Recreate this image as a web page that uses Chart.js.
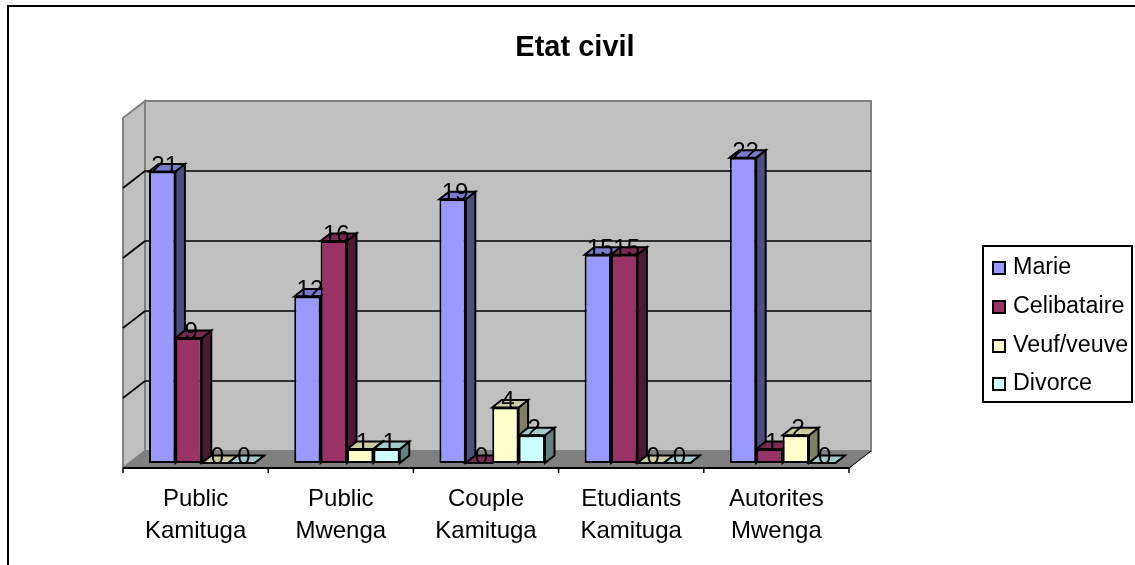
<!DOCTYPE html>
<html>
<head>
<meta charset="utf-8">
<style>html,body{margin:0;padding:0;background:#fff;overflow:hidden}canvas{display:block}</style>
<script src="https://cdn.jsdelivr.net/npm/chart.js@4/dist/chart.umd.min.js"></script>
</head>
<body>
<canvas id="c" width="1135" height="565"></canvas>
<script>
const categories = [["Public","Kamituga"],["Public","Mwenga"],["Couple","Kamituga"],["Etudiants","Kamituga"],["Autorites","Mwenga"]];
const seriesNames = ["Marie","Celibataire","Veuf/veuve","Divorce"];
const marie = [21,12,19,15,22];
const celibataire = [9,16,0,15,1];
const veuf = [0,1,4,0,2];
const divorce = [0,1,2,0,0];
const colors = ["#9999FF","#993366","#FFFFCC","#CCFFFF"];
const titleText = "Etat civil";

const FONT = '"Liberation Sans", Arial, sans-serif';
const WALL_DX = 22, WALL_DY = 17, FLOOR_FRONT = 5, BACK_UP = 12, WALL_K = 70/69.4;
const BAR_DX = 9.5, BAR_DY = 7.5, BAR_SHIFT = 6.2;

function shade(hex, k){
  const n = parseInt(hex.slice(1),16);
  const f = v => Math.round(v*k);
  return `rgb(${f(n>>16&255)},${f(n>>8&255)},${f(n&255)})`;
}
function poly(ctx, pts, fill, stroke, lw){
  ctx.beginPath();
  pts.forEach((p,i)=> i?ctx.lineTo(p[0],p[1]):ctx.moveTo(p[0],p[1]));
  ctx.closePath();
  if(fill){ctx.fillStyle=fill;ctx.fill();}
  if(stroke){ctx.strokeStyle=stroke;ctx.lineWidth=lw;ctx.lineJoin='miter';ctx.stroke();}
}
function line(ctx,x1,y1,x2,y2,c,lw){
  ctx.beginPath();ctx.moveTo(x1,y1);ctx.lineTo(x2,y2);ctx.strokeStyle=c;ctx.lineWidth=lw;ctx.stroke();
}

const scene = {
  id:'scene',
  beforeDraw(chart){
    const ctx=chart.ctx, a=chart.chartArea, y=chart.scales.y;
    ctx.save();
    ctx.fillStyle='#fff';ctx.fillRect(0,0,chart.width,chart.height);
    // outer frame: top and left edges
    line(ctx,8,6,chart.width,6,'#000',2);
    line(ctx,8,5,8,chart.height,'#000',2);
    const L=a.left,R=a.right,B=a.bottom;
    const backB=B-BACK_UP, wallY=v=>backB-(B-y.getPixelForValue(v))*WALL_K;
    const topV=y.max;
    // back wall, left wall, floor
    poly(ctx,[[L+WALL_DX,wallY(topV)],[R+WALL_DX,wallY(topV)],[R+WALL_DX,backB],[L+WALL_DX,backB]],'#C0C0C0','#808080',2);
    poly(ctx,[[L,wallY(topV)+WALL_DY],[L+WALL_DX,wallY(topV)],[L+WALL_DX,backB],[L,backB+WALL_DY]],'#C0C0C0','#808080',2);
    poly(ctx,[[L,backB+WALL_DY],[L+WALL_DX,backB],[R+WALL_DX,backB],[R,backB+WALL_DY]],'#808080','#808080',1);
    line(ctx,R,backB+WALL_DY,R+WALL_DX,backB,'#000',1);
    // gridlines from the value axis
    y.ticks.forEach(t=>{
      if(t.value===0||t.value===topV) return;
      const g=wallY(t.value);
      line(ctx,L,g+WALL_DY,L+WALL_DX,g,'#000',1.6);
      line(ctx,L+WALL_DX,g,R+WALL_DX,g,'#000',1.6);
    });
    // category axis line and tick marks
    const ay=B+FLOOR_FRONT;
    line(ctx,L,ay,R,ay,'#000',1.8);
    const step=(R-L)/categories.length;
    for(let i=0;i<=categories.length;i++) line(ctx,L+i*step,ay,L+i*step,ay+5,'#000',1.5);
    // title
    ctx.fillStyle='#000';ctx.font=`bold 29px ${FONT}`;ctx.textAlign='center';ctx.textBaseline='alphabetic';
    ctx.fillText(titleText,575,56);
    ctx.restore();
  },
  beforeDatasetsDraw(chart){
    const ctx=chart.ctx;
    ctx.save();
    ctx.translate(BAR_SHIFT,0);
    chart.data.datasets.forEach((ds,di)=>{
      const c=ds.backgroundColor, meta=chart.getDatasetMeta(di);
      meta.data.forEach(el=>{
        const {x,y,base,width}=el.getProps(['x','y','base','width'],true);
        const l=x-width/2,r=x+width/2;
        poly(ctx,[[r,y],[r+BAR_DX,y-BAR_DY],[r+BAR_DX,base-BAR_DY],[r,base]],shade(c,.5),'#000',2);
        poly(ctx,[[l,y],[l+BAR_DX,y-BAR_DY],[r+BAR_DX,y-BAR_DY],[r,y]],shade(c,.8),'#000',2);
      });
    });
  },
  afterDatasetsDraw(chart){
    const ctx=chart.ctx;
    ctx.restore();
    ctx.save();
    // data labels
    ctx.fillStyle='#000';ctx.font=`24px ${FONT}`;ctx.textAlign='center';ctx.textBaseline='alphabetic';
    chart.data.datasets.forEach((ds,di)=>{
      chart.getDatasetMeta(di).data.forEach((el,i)=>{
        const {x,y}=el.getProps(['x','y'],true);
        ctx.fillText(String(ds.data[i]),x+BAR_SHIFT+2.5,y+1);
      });
    });
    // legend
    ctx.lineWidth=2;ctx.strokeStyle='#000';ctx.strokeRect(983,246,149,156);
    ctx.font=`23.3px ${FONT}`;ctx.textAlign='left';ctx.textBaseline='middle';
    const rows=[268,307,346,384];
    seriesNames.forEach((n,i)=>{
      ctx.fillStyle=colors[i];ctx.fillRect(993,rows[i]-6,12,12);
      ctx.strokeStyle='#000';ctx.lineWidth=2;ctx.strokeRect(993,rows[i]-6,12,12);
      ctx.fillStyle='#000';ctx.fillText(n,1013,rows[i]);
    });
    ctx.restore();
  }
};

new Chart(document.getElementById('c'),{
  type:'bar',
  data:{
    labels:categories,
    datasets:[marie,celibataire,veuf,divorce].map((d,i)=>({
      label:seriesNames[i],data:d,backgroundColor:colors[i],borderColor:'#000',borderWidth:2,borderSkipped:false,
      categoryPercentage:0.727,barPercentage:1,clip:false
    }))
  },
  options:{
    responsive:false,animation:false,devicePixelRatio:1,
    layout:{padding:{left:123,right:286,top:116,bottom:0}},
    plugins:{legend:{display:false},title:{display:false},tooltip:{enabled:false}},
    scales:{
      x:{
        grid:{display:false},border:{display:false},
        ticks:{color:'#000',font:{family:FONT,size:24,lineHeight:1.33},padding:12,autoSkip:false,maxRotation:0,minRotation:0},
        afterFit(s){s.height=102;}
      },
      y:{display:false,min:0,max:25,ticks:{stepSize:5}}
    }
  },
  plugins:[scene]
});
</script>
</body>
</html>
